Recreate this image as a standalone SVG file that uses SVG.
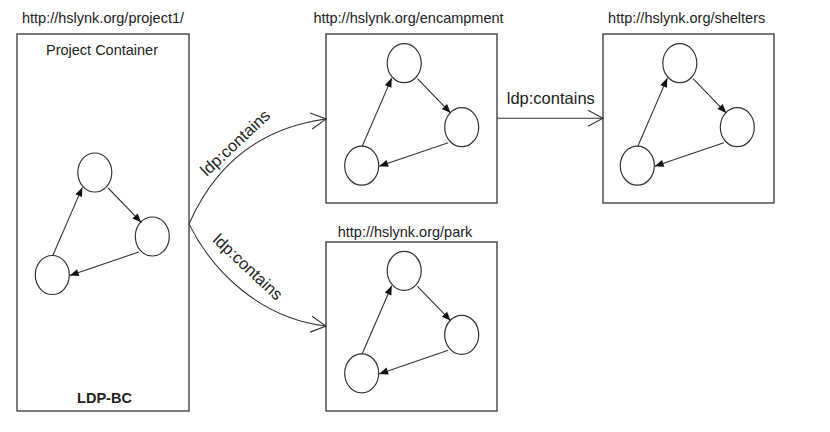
<svg xmlns="http://www.w3.org/2000/svg" xmlns:xlink="http://www.w3.org/1999/xlink" width="830" height="432" viewBox="0 0 830 432">
<style>
  .box { fill: #fff; stroke: #333; stroke-width: 1.3; }
  .circ { fill: #fff; stroke: #333; stroke-width: 1.2; }
  .edge { fill: none; stroke: #333; stroke-width: 1.1; }
  .conn { fill: none; stroke: #333; stroke-width: 1.1; }
  .t { font-family: "Liberation Sans", Arial, sans-serif; fill: #222; }
  .title { font-size: 14.5px; }
  .lbl { font-size: 16.5px; }
</style>
<defs>
  <marker id="fill" markerUnits="userSpaceOnUse" viewBox="-10 -5 11 10" refX="0" refY="0" markerWidth="11" markerHeight="10" orient="auto">
    <path d="M0,0 L-9,-3.6 L-9,3.6 Z" fill="#111"/>
  </marker>
  <marker id="open" markerUnits="userSpaceOnUse" viewBox="-18 -10 20 20" refX="0" refY="0" markerWidth="20" markerHeight="20" orient="auto">
    <path d="M-15,-8 L0,0 L-15,8" fill="none" stroke="#333" stroke-width="1.1"/>
  </marker>
  <g id="tri">
    <ellipse class="circ" cx="0" cy="0" rx="17" ry="19.5"/>
    <ellipse class="circ" cx="42.5" cy="-102.5" rx="17" ry="19.5"/>
    <ellipse class="circ" cx="100" cy="-38.5" rx="17" ry="19.5"/>
    <line class="edge" x1="0.5" y1="-19.5" x2="30" y2="-87.6" marker-end="url(#fill)"/>
    <line class="edge" x1="55.8" y1="-87" x2="89" y2="-52.6" marker-end="url(#fill)"/>
    <line class="edge" x1="86.5" y1="-23" x2="17.4" y2="0.6" marker-end="url(#fill)"/>
  </g>
</defs>
<rect width="830" height="432" fill="#fff"/>

<g id="project1">
  <rect class="box" x="17" y="34" width="172" height="377"/>
  <text class="t title" x="103" y="23" text-anchor="middle">http://hslynk.org/project1/</text>
  <text class="t title" x="102" y="55" text-anchor="middle">Project Container</text>
  <use xlink:href="#tri" href="#tri" transform="translate(52.3,275)"/>
  <text class="t title" x="104.5" y="403" text-anchor="middle" font-weight="bold">LDP-BC</text>
</g>

<g id="encampment">
  <rect class="box" x="326" y="34" width="171" height="169"/>
  <text class="t title" x="408.5" y="23" text-anchor="middle">http://hslynk.org/encampment</text>
  <use xlink:href="#tri" href="#tri" transform="translate(361.7,165.7)"/>
</g>

<g id="shelters">
  <rect class="box" x="603" y="34" width="171" height="169"/>
  <text class="t title" x="686.7" y="23" text-anchor="middle">http://hslynk.org/shelters</text>
  <use xlink:href="#tri" href="#tri" transform="translate(637.3,165.7)"/>
</g>

<g id="park">
  <rect class="box" x="326" y="242" width="171" height="169"/>
  <text class="t title" x="405" y="236.5" text-anchor="middle">http://hslynk.org/park</text>
  <use xlink:href="#tri" href="#tri" transform="translate(361.7,373.3)"/>
</g>

<g id="connectors">
  <path class="conn" d="M189,224 C215,165 260,128 326,119" marker-end="url(#open)"/>
  <text class="t lbl" transform="translate(239,147) rotate(-43)" text-anchor="middle">ldp:contains</text>
  <path class="conn" d="M189,224 C213,272 260,318 326,326" marker-end="url(#open)"/>
  <text class="t lbl" transform="translate(244,271) rotate(43)" text-anchor="middle">ldp:contains</text>
  <line class="conn" x1="497" y1="118.3" x2="603" y2="118.3" marker-end="url(#open)"/>
  <text class="t lbl" x="550.8" y="104" text-anchor="middle">ldp:contains</text>
</g>
</svg>
